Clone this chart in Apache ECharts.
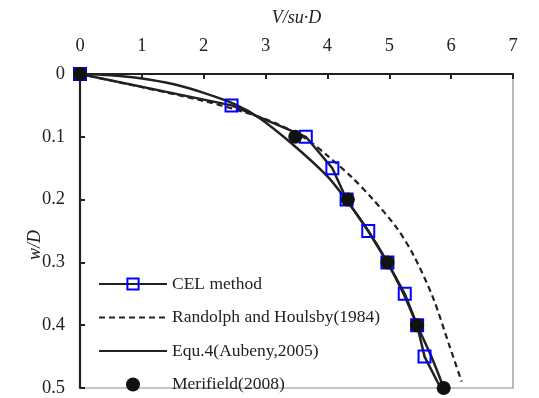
<!DOCTYPE html>
<html>
<head>
<meta charset="utf-8">
<script src="https://cdn.jsdelivr.net/npm/echarts@6/dist/echarts.min.js"></script>
<style>html,body{margin:0;padding:0;background:#fff}#c{width:539px;height:398px}</style>
</head>
<body>
<div id="c"></div>
<script>
// Data (x = V/su·D, y = w/D)
var xTicks = [0, 1, 2, 3, 4, 5, 6, 7];
var yTicks = [0, 0.1, 0.2, 0.3, 0.4, 0.5];
var celX = [0, 2.45, 3.65, 4.08, 4.31, 4.66, 4.97, 5.25, 5.45, 5.57, 5.83];
var celY = [0, 0.05, 0.1, 0.15, 0.2, 0.25, 0.3, 0.35, 0.4, 0.45, 0.5];
var randX = [0, 1.0, 2.0, 2.7, 3.2, 3.65, 4.0, 4.4, 4.74, 5.12, 5.4, 5.71, 5.98, 6.17];
var randY = [0, 0.021, 0.043, 0.062, 0.08, 0.103, 0.13, 0.165, 0.2, 0.245, 0.29, 0.357, 0.435, 0.49];
var equX = [0, 0.5, 1.0, 1.5, 2.0, 2.5, 2.9, 3.45, 4.0, 4.3, 4.66, 4.97, 5.23, 5.45, 5.68, 5.88];
var equY = [0, 0.002, 0.007, 0.016, 0.03, 0.048, 0.07, 0.113, 0.163, 0.2, 0.25, 0.3, 0.35, 0.4, 0.45, 0.5];
var merX = [0, 3.48, 4.33, 4.97, 5.45, 5.88];
var merY = [0, 0.1, 0.2, 0.3, 0.4, 0.5];

function pairs(xs, ys) { return xs.map(function (x, i) { return [x, ys[i]]; }); }
var celData = pairs(celX, celY).map(function (p, i) {
  return i === celX.length - 1 ? { value: p, symbol: 'none' } : p;
});

var FONT = 'Liberation Serif';
var noMark = { color: 'rgba(0,0,0,0)', borderWidth: 0 };
var chart = echarts.init(document.getElementById('c'), null, { renderer: 'canvas' });
chart.setOption({
  animation: false,
  backgroundColor: '#fff',
  grid: { left: 80, right: 26, top: 74, bottom: 10, show: true, borderColor: '#8c8c8c', borderWidth: 1.2 },
  xAxis: {
    type: 'value', position: 'top', min: 0, max: 7, interval: 1,
    name: 'V/su·D', nameLocation: 'middle', nameGap: 47, nameMoveOverlap: false,
    nameTextStyle: { fontFamily: FONT, fontStyle: 'italic', fontSize: 18, color: '#222' },
    axisLine: { show: true, onZero: false, lineStyle: { color: '#222', width: 2.2 } },
    axisTick: { show: true, inside: true, length: 5, lineStyle: { color: '#222', width: 2 } },
    axisLabel: { fontFamily: FONT, fontSize: 18.5, color: '#222', margin: 18 },
    splitLine: { show: false }
  },
  yAxis: {
    type: 'value', inverse: true, min: 0, max: 0.5, interval: 0.1,
    name: 'w/D', nameLocation: 'middle', nameGap: 36, nameMoveOverlap: false,
    nameTextStyle: { fontFamily: FONT, fontStyle: 'italic', fontSize: 18, color: '#222', padding: [0, 28, 0, 0] },
    axisLine: { show: true, onZero: false, lineStyle: { color: '#222', width: 2.2 } },
    axisTick: { show: true, inside: true, length: 5, lineStyle: { color: '#222', width: 2 } },
    axisLabel: { fontFamily: FONT, fontSize: 18.5, color: '#222', margin: 15,
      formatter: function (v) { return String(Math.round(v * 10) / 10); } },
    splitLine: { show: false }
  },
  legend: {
    orient: 'vertical', left: 98, top: 275, padding: 0, itemWidth: 68, itemHeight: 14, itemGap: 15.5,
    textStyle: { fontFamily: FONT, fontSize: 17.5, color: '#222' },
    data: [
      { name: 'CEL method' },
      { name: 'Randolph and Houlsby(1984)', itemStyle: noMark },
      { name: 'Equ.4(Aubeny,2005)', itemStyle: noMark },
      { name: 'Merifield(2008)', itemStyle: { color: '#111', opacity: 1 }, icon: 'path://M0,0 m-5,0 a5,5 0 1,0 10,0 a5,5 0 1,0 -10,0' }
    ]
  },
  series: [
    {
      name: 'Randolph and Houlsby(1984)', type: 'line', smooth: 0.3, showSymbol: false, symbol: 'none', clip: false,
      data: pairs(randX, randY),
      lineStyle: { color: '#222', width: 2.2, type: [6, 4] }, itemStyle: { color: '#222' }, z: 2
    },
    {
      name: 'Equ.4(Aubeny,2005)', type: 'line', smooth: 0.3, showSymbol: false, symbol: 'none', clip: false,
      data: pairs(equX, equY),
      lineStyle: { color: '#222', width: 2.5 }, itemStyle: { color: '#222' }, z: 3
    },
    {
      name: 'CEL method', type: 'line', symbol: 'rect', symbolSize: 12, clip: false,
      data: celData,
      lineStyle: { color: '#222', width: 2.5 },
      itemStyle: { color: 'rgba(0,0,0,0)', borderColor: '#0000ff', borderWidth: 2 }, z: 4
    },
    {
      name: 'Merifield(2008)', type: 'scatter', symbol: 'circle', symbolSize: 14, clip: false,
      data: pairs(merX, merY),
      itemStyle: { color: '#111', opacity: 1 }, z: 5
    }
  ]
});
</script>
</body>
</html>
